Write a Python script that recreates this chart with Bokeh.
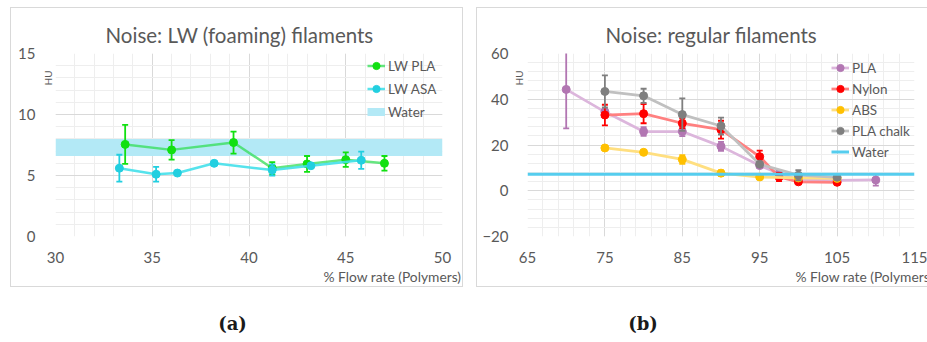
import math
from bokeh.plotting import figure
from bokeh.models import (Range1d, FixedTicker, Legend, LegendItem, Label, Title)
from bokeh.layouts import row, column
from bokeh.embed import file_html
from bokeh.resources import INLINE

# ---------------- data: panel (a) ----------------
a_title = "Noise: LW (foaming) filaments"
a_xticks = [30, 35, 40, 45, 50]
a_yticks = [0, 5, 10, 15]
lw_pla_x = [33.6, 36.0, 39.2, 41.2, 43.0, 45.0, 47.0]
lw_pla_y = [7.55, 7.1, 7.7, 5.6, 5.95, 6.3, 6.0]
lw_pla_err = [1.6, 0.8, 0.9, 0.5, 0.65, 0.6, 0.6]
lw_asa_x = [33.3, 35.2, 36.3, 38.2, 41.2, 43.2, 45.8]
lw_asa_y = [5.6, 5.1, 5.2, 6.0, 5.45, 5.8, 6.25]
lw_asa_err = [1.1, 0.6, 0.0, 0.0, 0.45, 0.0, 0.7]
water_band = [6.6, 8.0]

# ---------------- data: panel (b) ----------------
b_title = "Noise: regular filaments"
b_xticks = [65, 75, 85, 95, 105, 115]
b_yticks = [-20, 0, 20, 40, 60]
pla_x = [70, 75, 80, 85, 90, 95, 97.5, 100, 105, 110]
pla_y = [44.3, 34.5, 25.9, 25.9, 19.4, 11.0, 7.5, 5.0, 4.5, 4.7]
pla_err = [17.0, 0.0, 1.9, 2.0, 2.0, 1.0, 0.0, 0.0, 0.0, 2.5]
nylon_x = [75, 80, 85, 90, 95, 97.5, 100, 105]
nylon_y = [33.1, 33.7, 29.5, 26.7, 14.9, 6.0, 3.9, 3.7]
nylon_err = [4.5, 4.2, 2.1, 3.9, 2.6, 1.8, 0.8, 0.8]
abs_x = [75, 80, 85, 90, 95, 100, 105]
abs_y = [18.7, 16.8, 13.7, 7.7, 6.0, 5.6, 5.4]
abs_err = [0.8, 0.8, 1.9, 1.2, 0.5, 0.5, 0.5]
chalk_x = [75, 80, 85, 90, 95, 100, 105]
chalk_y = [43.4, 41.5, 33.3, 28.3, 11.6, 6.8, 5.9]
chalk_err = [7.0, 3.1, 7.1, 3.7, 0.8, 2.2, 0.6]
water_level = 7.2

captions = ["(a)", "(b)"]
x_label = "% Flow rate (Polymers)"
y_label = "HU"

FONT = "Lato"
GREY_TXT = "#595959"


def make_fig(left, right, xr, yr, xticks, yticks, xminor, yminor, title,
             title_offset, margin, hu_standoff, y_standoff):
    p = figure(frame_width=385, frame_height=181, x_range=Range1d(*xr), y_range=Range1d(*yr),
               output_backend="svg", toolbar_location=None,
               min_border_left=left, min_border_right=right,
               min_border_top=45, min_border_bottom=52, margin=margin,
               styles={"border": "1px solid #d9d9d9", "box-sizing": "border-box"})
    p.outline_line_color = None
    p.background_fill_color = "white"
    p.border_fill_color = "white"
    p.xaxis.ticker = FixedTicker(ticks=xticks, minor_ticks=xminor)
    p.yaxis.ticker = FixedTicker(ticks=yticks, minor_ticks=yminor)
    for ax in (p.xaxis, p.yaxis):
        ax.axis_line_color = None
        ax.major_tick_line_color = None
        ax.minor_tick_line_color = None
        ax.major_tick_out = 0
        ax.major_tick_in = 0
        ax.minor_tick_out = 0
        ax.minor_tick_in = 0
        ax.major_label_text_color = GREY_TXT
        ax.major_label_text_font = FONT
        ax.major_label_text_font_size = "15px"
    p.xaxis.major_label_standoff = 15
    p.yaxis.axis_label = None
    p.yaxis.axis_label_standoff = 0
    for g in (p.xgrid, p.ygrid):
        g.grid_line_color = "#d9d9d9"
        g.minor_grid_line_color = "#eeeeee"
    # chart title
    p.title.text = title
    p.title.align = "left"
    p.title.offset = title_offset
    p.title.standoff = 13
    p.title.text_font = FONT
    p.title.text_font_size = "20.5px"
    p.title.text_font_style = "normal"
    p.title.text_color = GREY_TXT
    # x label (right part under the axis)
    p.add_layout(Title(text=x_label, align="left", offset=268, standoff=0,
                       text_font=FONT, text_font_size="13.8px", text_font_style="normal",
                       text_color=GREY_TXT), "below")
    # y label at top of the axis, between tick labels and plot area
    hu = Title(text=y_label, align="left", offset=151, standoff=hu_standoff,
               text_font=FONT, text_font_size="10px", text_font_style="normal",
               text_color=GREY_TXT)
    yax = p.left[0]
    p.left = [hu, yax]
    p.yaxis.major_label_standoff = y_standoff
    return p


def series(p, xs, ys, errs, mcolor, lcolor, lalpha, lw=2.5, size=8):
    r = p.line(xs, ys, line_color=lcolor, line_width=lw, line_alpha=lalpha)
    lo = [y - e for y, e in zip(ys, errs)]
    hi = [y + e for y, e in zip(ys, errs)]
    p.segment(x0=xs, y0=lo, x1=xs, y1=hi, line_color=mcolor, line_width=1.8)
    p.scatter(xs, hi, marker="dash", size=6, line_color=mcolor, line_width=1.8)
    p.scatter(xs, lo, marker="dash", size=6, line_color=mcolor, line_width=1.8)
    m = p.scatter(xs, ys, size=size, fill_color=mcolor, line_color=mcolor)
    return [r, m]


def legend(items, loc, spacing):
    return Legend(items=items, location=loc, padding=0, margin=0, spacing=spacing,
                  glyph_width=18, glyph_height=21, label_height=21, label_standoff=3,
                  label_text_font=FONT, label_text_font_size="13.5px",
                  label_text_color=GREY_TXT, border_line_color=None,
                  background_fill_alpha=0)


# ================= panel (a) =================
pa = make_fig(44, 22, (a_xticks[0], a_xticks[-1]), (a_yticks[0], a_yticks[-1]),
              a_xticks, a_yticks,
              list(range(a_xticks[0], a_xticks[-1] + 1)),
              list(range(a_yticks[0], a_yticks[-1] + 1)),
              a_title, 50, (7, 4, 0, 10), 3, 3)

pa.quad(left=a_xticks[0], right=a_xticks[-1], bottom=water_band[0], top=water_band[1],
        fill_color="#b3e9f6", line_color=None)
r_pla = series(pa, lw_pla_x, lw_pla_y, lw_pla_err, "#11e011", "#33dd55", 0.75)
r_asa = series(pa, lw_asa_x, lw_asa_y, lw_asa_err, "#22cfe0", "#44e0ea", 0.9)
r_wat_a = pa.line([math.nan], [math.nan], line_color="#b3e9f6", line_width=8)

pa.add_layout(legend([LegendItem(label="LW PLA", renderers=r_pla),
                      LegendItem(label="LW ASA", renderers=r_asa),
                      LegendItem(label="Water", renderers=[r_wat_a])], (312, 114), 2), "center")

# ================= panel (b) =================
pb = make_fig(50, 16, (b_xticks[0], b_xticks[-1]), (b_yticks[0], b_yticks[-1]),
              b_xticks, b_yticks,
              list(range(b_xticks[0], b_xticks[-1] + 1, 2)),
              list(range(b_yticks[0], b_yticks[-1] + 1, 4)),
              b_title, 78, (7, 2, 0, 9), 5, 0)

r_p = series(pb, pla_x, pla_y, pla_err, "#b276b2", "#dcb6dc", 1.0, lw=2.75)
r_n = series(pb, nylon_x, nylon_y, nylon_err, "#ff0000", "#ff8080", 1.0, lw=2.75)
r_a = series(pb, abs_x, abs_y, abs_err, "#ffc000", "#ffdf80", 1.0, lw=2.75)
r_c = series(pb, chalk_x, chalk_y, chalk_err, "#7f7f7f", "#c0c0c0", 1.0, lw=2.75)
r_w = pb.line([b_xticks[0], b_xticks[-1]], [water_level, water_level],
              line_color="#55cdee", line_width=3)

pb.add_layout(legend([LegendItem(label="PLA", renderers=r_p),
                      LegendItem(label="Nylon", renderers=r_n),
                      LegendItem(label="ABS", renderers=r_a),
                      LegendItem(label="PLA chalk", renderers=r_c),
                      LegendItem(label="Water", renderers=[r_w])], (304, 74), 0), "center")

# ================= captions =================
pc = figure(width=927, height=57, x_range=Range1d(0, 927), y_range=Range1d(57, 0),
            output_backend="svg", toolbar_location=None, x_axis_type=None, y_axis_type=None,
            min_border=0, margin=(0, 0, 0, 0))
pc.outline_line_color = None
pc.grid.visible = False
for cx, txt in zip([232, 642.5], captions):
    pc.add_layout(Label(x=cx, y=36, text=txt, text_align="center", text_baseline="middle",
                        text_font="DejaVu Serif", text_font_style="bold",
                        text_font_size="18px", text_color="#1a1a1a"))

layout = column(row(pa, pb, spacing=0), pc, spacing=0)
open("out.html", "w").write(file_html(layout, INLINE))
